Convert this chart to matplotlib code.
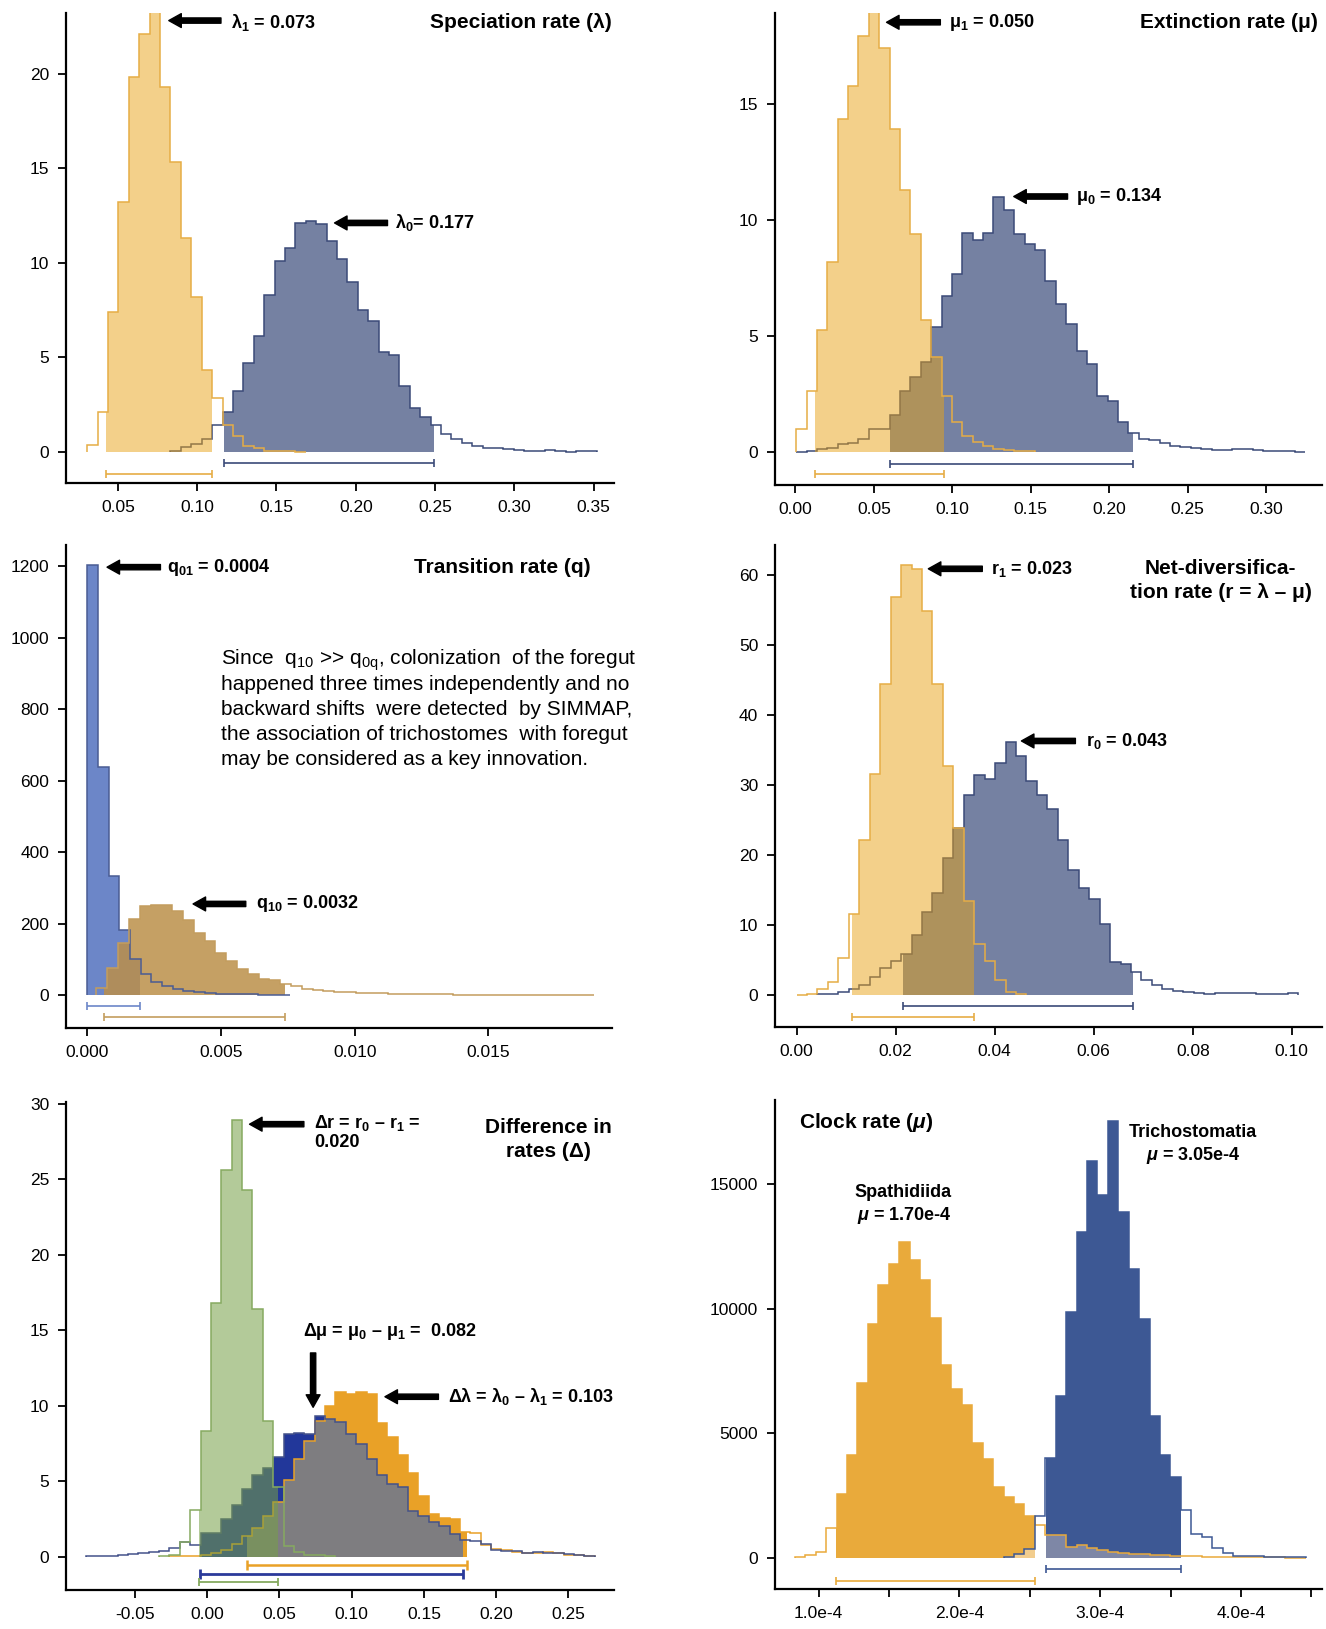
import numpy as np
import matplotlib
matplotlib.use("Agg")
import matplotlib.pyplot as plt

plt.rcParams['font.family'] = ['Liberation Sans', 'DejaVu Sans']
plt.rcParams['mathtext.fontset'] = 'custom'
plt.rcParams['mathtext.rm'] = 'Liberation Sans'
plt.rcParams['mathtext.bf'] = 'Liberation Sans:bold'
plt.rcParams['mathtext.it'] = 'Liberation Sans:italic:bold'

# ---------------- data (histogram heights) ----------------
# speciation rate
lam_start, lam_width, lam_nbins = 0.0307, 0.00656, 49
lam1_first = 0
lam1 = [0.36, 2.1, 7.4, 13.2, 19.8, 22.1, 23.5, 19.3, 15.3, 11.3, 8.2, 4.35, 2.85,
        1.4, 0.83, 0.32, 0.18, 0.05, 0.04, 0.02, 0.01]
lam0_first = 8
lam0 = [0.05, 0.23, 0.41, 0.68, 1.4, 2.1, 3.2, 4.7, 6.1, 8.3, 10.1, 10.8, 12.1, 12.2,
        12.05, 11.15, 10.2, 9.0, 7.5, 6.9, 5.3, 5.1, 3.5, 2.3, 1.85, 1.4, 0.95, 0.68,
        0.47, 0.29, 0.18, 0.18, 0.14, 0.11, 0.05, 0.05, 0.11, 0.05, 0.0, 0.04, 0.04]
lam1_hpd = (0.0425, 0.1095)
lam0_hpd = (0.117, 0.2495)

# extinction rate
mu_start, mu_width, mu_nbins = 0.0005, 0.00662, 49
mu1_first = 0
mu1 = [0.97, 2.64, 5.24, 8.17, 14.35, 15.74, 17.9, 19.5, 17.4, 13.9, 11.3, 9.37, 5.68,
       4.1, 2.42, 1.29, 0.67, 0.41, 0.26, 0.12, 0.09, 0.04, 0.03]
mu0_first = 0
mu0 = [0.0, 0.04, 0.15, 0.19, 0.34, 0.37, 0.56, 1.0, 0.97, 1.61, 2.64, 3.24, 3.88, 5.39,
       6.73, 7.66, 9.44, 9.12, 9.44, 10.98, 10.44, 9.37, 8.97, 8.68, 7.36, 6.37, 5.53,
       4.36, 3.81, 2.43, 2.2, 1.29, 0.82, 0.56, 0.51, 0.37, 0.26, 0.23, 0.19, 0.12, 0.07,
       0.09, 0.12, 0.15, 0.09, 0.04, 0.04, 0.03, 0.01]
mu1_hpd = (0.0122, 0.0946)
mu0_hpd = (0.0600, 0.215)

# transition rate
q01_start, q01_width = 0.0, 0.0004
q01 = [1204, 637, 334, 182, 100, 59, 36, 25, 17, 12, 8, 6, 4, 3, 2, 2, 1, 1, 1]
q10_start, q10_width = 0.00035, 0.000404
q10 = [20, 77, 145, 214, 250, 252, 252, 234, 209, 173, 152, 118, 95, 73, 59, 45, 41, 32,
       25, 18, 14, 12, 10, 8, 7, 6, 5, 4, 3, 2, 2, 2, 2, 1, 1, 1, 1, 1, 1, 1, 1, 1, 1,
       1, 1, 1]
q01_hpd = (0.0, 0.00198)
q10_hpd = (0.00062, 0.00738)
note_lines = [
    'Since  q$_{\\mathrm{10}}$ >> q$_{\\mathrm{0q}}$, colonization  of the foregut',
    'happened three times independently and no',
    'backward shifts  were detected  by SIMMAP,',
    'the association of trichostomes  with foregut',
    'may be considered as a key innovation.',
]

# net diversification rate
r_start, r_width, r_nbins = 0.0, 0.00211, 48
r1_first = 0
r1 = [0.05, 0.1, 0.9, 1.8, 5.3, 11.6, 22.2, 31.6, 44.4, 56.9, 61.5, 60.9, 54.9, 44.4,
      32.7, 23.8, 13.5, 7.3, 4.8, 2.1, 0.4, 0.15]
r0_first = 2
r0 = [0.1, 0.1, 0.5, 0.9, 1.5, 2.6, 3.8, 4.8, 5.9, 8.6, 11.8, 14.6, 19.6, 23.8, 28.6,
      31.4, 30.8, 33.2, 36.2, 34.2, 30.6, 28.6, 26.6, 22.2, 17.9, 15.3, 13.7, 10.1, 4.7,
      4.5, 3.3, 2.2, 1.4, 0.9, 0.6, 0.5, 0.3, 0.15, 0.3, 0.3, 0.25, 0.25, 0.15, 0.15,
      0.2, 0.25]
r1_hpd = (0.0112, 0.0358)
r0_hpd = (0.0214, 0.0679)

# differences in rates
d_start, d_width, d_nbins = -0.0836, 0.00718, 49
dmu_first = 0
dmu = [0.07, 0.07, 0.07, 0.12, 0.17, 0.24, 0.3, 0.35, 0.6, 0.95, 0.8, 1.6, 1.55, 2.5,
       3.4, 4.5, 5.4, 5.9, 6.6, 8.1, 8.2, 8.1, 9.35, 9.1, 8.9, 8.15, 7.5, 6.5, 5.4, 4.85,
       4.6, 3.0, 2.7, 2.3, 2.05, 1.5, 1.1, 1.06, 0.83, 0.47, 0.35, 0.35, 0.24, 0.3, 0.24,
       0.24, 0.17, 0.12, 0.07]
dlam_first = 8
dlam = [0.05, 0.05, 0.05, 0.1, 0.24, 0.47, 0.83, 1.4, 1.9, 2.7, 3.66, 5.1, 6.5, 7.7,
        8.98, 10.0, 10.9, 10.75, 10.9, 10.75, 8.86, 7.9, 6.73, 5.55, 4.0, 2.83, 2.6, 2.5,
        1.65, 1.6, 0.75, 0.5, 0.45, 0.3, 0.25, 0.25, 0.3, 0.25, 0.15, 0.1, 0.05]
dr_first = 7
dr = [0.05, 0.15, 0.95, 3.1, 8.3, 16.8, 25.6, 28.9, 24.3, 16.4, 9.0, 4.6, 0.7, 0.3,
      0.15, 0.1, 0.05]
dlam_hpd = (0.0276, 0.1795)
dmu_hpd = (-0.005, 0.1768)
dr_hpd = (-0.006, 0.0493)

# clock rate
ck_start, ck_width, ck_nbins = 0.831e-4, 0.0741e-4, 49
spath_first = 0
spath = [43, 115, 258, 1188, 2547, 4121, 7012, 9373, 10947, 11777, 12679, 11949, 11133,
         9630, 7727, 6769, 6125, 4622, 3978, 2862, 2433, 2147, 1689, 1331, 930, 900, 429,
         515, 400, 329, 258, 186, 157, 143, 114, 100, 86, 72, 60, 50, 40, 35, 30, 25, 25,
         20, 20, 15, 10]
trich_first = 20
trich = [50, 150, 340, 1678, 3990, 6482, 9874, 13065, 15927, 14539, 17500, 13880, 11591,
         9588, 5695, 4121, 3263, 1903, 973, 830, 400, 186, 86, 86, 86, 43, 43, 43, 20]
spath_hpd = (1.126e-4, 2.536e-4)
trich_hpd = (2.613e-4, 3.572e-4)

clock_xticks = [1.0e-4, 1.5e-4, 2.0e-4, 2.5e-4, 3.0e-4, 3.5e-4, 4.0e-4, 4.5e-4]
clock_xlabels = ['1.0e-4', '', '2.0e-4', '', '3.0e-4', '', '4.0e-4', '']

# ---------------- colours ----------------
ORANGE = '#E8A317'
ORANGE_LINE = '#E6AD45'
SLATE = '#192D64'
SLATE_LINE = '#3B4A78'


def grid(start, width, n):
    return start + width * np.arange(n + 1)


def full(first, vals, n):
    h = np.zeros(n)
    h[first:first + len(vals)] = vals
    return h


def outline(ax, edges, first, vals, color, lw=1.1, z=3):
    e = edges[first:first + len(vals) + 1]
    ax.stairs(vals, e, color=color, lw=lw, zorder=z)


def hpd_fill(ax, edges, h, lo, hi, color, alpha=1.0, z=1):
    h = np.asarray(h, float)
    n = len(h)
    e = edges[:n + 1]
    idx = np.where((e[1:] > lo) & (e[:-1] < hi))[0]
    ee = np.clip(np.append(e[idx], e[idx[-1] + 1]), lo, hi)
    ax.stairs(h[idx], ee, fill=True, color=color, alpha=alpha, lw=0, zorder=z)


def hpd_bar(ax, lo, hi, y, color, lw=1.2, ms=6):
    ax.plot([lo, hi], [y, y], color=color, lw=lw, marker='|', ms=ms, mew=lw,
            zorder=4, solid_capstyle='butt')


def arrow(ax, tip, tail):
    ax.annotate('', xy=tip, xytext=tail,
                arrowprops=dict(arrowstyle='simple,head_length=0.9,head_width=1.0,tail_width=0.38',
                                fc='black', ec='black', mutation_scale=10,
                                shrinkA=0, shrinkB=0), zorder=6)


def frame(ax, xlim, ylim, xticks, xlabels, yticks):
    ax.set_xlim(xlim)
    ax.set_ylim(ylim)
    ax.set_xticks(xticks)
    ax.set_xticklabels(xlabels)
    ax.set_yticks(yticks)
    ax.set_yticklabels([str(v) for v in yticks])
    for s in ('top', 'right'):
        ax.spines[s].set_visible(False)
    for s in ('left', 'bottom'):
        ax.spines[s].set_linewidth(1.6)
    ax.tick_params(direction='out', length=6, width=1.3, labelsize=12.5, pad=6)
    ax.patch.set_alpha(0)


BOLD = dict(fontweight='bold', fontsize=13)
TITLE = dict(fontweight='bold', fontsize=15)

fig = plt.figure(figsize=(13.26, 16.29), dpi=100)
W, H = 1326.0, 1629.0


def axes_px(left, top, right, bottom):
    return fig.add_axes([left / W, 1 - bottom / H, (right - left) / W, (bottom - top) / H])


# ---------------- panel 1: speciation ----------------
ax = axes_px(66, 13, 614, 483)
e = grid(lam_start, lam_width, lam_nbins)
h0 = full(lam0_first, lam0, lam_nbins)
h1 = full(lam1_first, lam1, lam_nbins)
hpd_fill(ax, e, h0, *lam0_hpd, color=SLATE, alpha=0.6, z=1)
outline(ax, e, lam0_first, lam0, SLATE_LINE, z=2)
hpd_fill(ax, e, h1, *lam1_hpd, color=ORANGE, alpha=0.5, z=2.5)
outline(ax, e, lam1_first, lam1, ORANGE_LINE, z=3)
hpd_bar(ax, *lam0_hpd, -0.61, SLATE_LINE)
hpd_bar(ax, *lam1_hpd, -1.15, ORANGE_LINE)
arrow(ax, (0.0821, 22.8), (0.115, 22.8))
ax.text(0.1213, 22.7, r'λ$_{\mathbf{1}}$ = 0.073', va='center', ha='left', **BOLD)
arrow(ax, (0.1866, 12.1), (0.220, 12.1))
ax.text(0.225, 12.1, r'λ$_{\mathbf{0}}$= 0.177', va='center', ha='left', **BOLD)
ax.text(0.3615, 22.7, 'Speciation rate (λ)', va='center', ha='right', **TITLE)
frame(ax, (0.0173, 0.3628), (-1.65, 23.2), [0.05, 0.10, 0.15, 0.20, 0.25, 0.30, 0.35],
      ['0.05', '0.10', '0.15', '0.20', '0.25', '0.30', '0.35'], [0, 5, 10, 15, 20])

# ---------------- panel 2: extinction ----------------
ax = axes_px(775, 13, 1322, 485)
e = grid(mu_start, mu_width, mu_nbins)
h0 = full(mu0_first, mu0, mu_nbins)
h1 = full(mu1_first, mu1, mu_nbins)
hpd_fill(ax, e, h0, *mu0_hpd, color=SLATE, alpha=0.6, z=1)
outline(ax, e, mu0_first, mu0, SLATE_LINE, z=2)
hpd_fill(ax, e, h1, *mu1_hpd, color=ORANGE, alpha=0.5, z=2.5)
outline(ax, e, mu1_first, mu1, ORANGE_LINE, z=3)
hpd_bar(ax, *mu0_hpd, -0.5, SLATE_LINE)
hpd_bar(ax, *mu1_hpd, -0.94, ORANGE_LINE)
arrow(ax, (0.0581, 18.5), (0.0924, 18.5))
ax.text(0.0978, 18.5, r'μ$_{\mathbf{1}}$ = 0.050', va='center', ha='left', **BOLD)
arrow(ax, (0.1392, 11.0), (0.1735, 11.0))
ax.text(0.179, 11.0, r'μ$_{\mathbf{0}}$ = 0.134', va='center', ha='left', **BOLD)
ax.text(0.333, 18.5, 'Extinction rate (μ)', va='center', ha='right', **TITLE)
frame(ax, (-0.013, 0.3357), (-1.42, 18.9), [0.0, 0.05, 0.10, 0.15, 0.20, 0.25, 0.30],
      ['0.00', '0.05', '0.10', '0.15', '0.20', '0.25', '0.30'], [0, 5, 10, 15])

# ---------------- panel 3: transition ----------------
ax = axes_px(66, 545, 612, 1028)
ea = grid(q01_start, q01_width, len(q01))
eb = grid(q10_start, q10_width, len(q10))
hpd_fill(ax, ea, q01, *q01_hpd, color='#6C86C8', alpha=1.0, z=1)
hpd_fill(ax, eb, q10, *q10_hpd, color='#BB8F49', alpha=0.85, z=1.5)
outline(ax, ea, 0, q01, '#4A5C93', z=2)
outline(ax, eb, 0, q10, '#C39D5E', z=3)
hpd_bar(ax, *q01_hpd, -30, '#6C86C8')
hpd_bar(ax, *q10_hpd, -61, '#C39D5E')
arrow(ax, (0.000744, 1197), (0.00274, 1197))
ax.text(0.0030, 1197, r'q$_{\mathbf{01}}$ = 0.0004', va='center', ha='left', **BOLD)
arrow(ax, (0.00396, 255), (0.00593, 255))
ax.text(0.00633, 255, r'q$_{\mathbf{10}}$ = 0.0032', va='center', ha='left', **BOLD)
ax.text(0.01883, 1197, 'Transition rate (q)', va='center', ha='right', **TITLE)
for line, yline in zip(note_lines, [937, 868, 799, 728, 658]):
    ax.text(0.00502, yline, line, va='center', ha='left', fontsize=15)
frame(ax, (-0.00079, 0.01962), (-92, 1259), [0.0, 0.005, 0.010, 0.015],
      ['0.000', '0.005', '0.010', '0.015'], [0, 200, 400, 600, 800, 1000, 1200])

# ---------------- panel 4: net diversification ----------------
ax = axes_px(775, 545, 1322, 1027)
e = grid(r_start, r_width, r_nbins)
h0 = full(r0_first, r0, r_nbins)
h1 = full(r1_first, r1, r_nbins)
hpd_fill(ax, e, h0, *r0_hpd, color=SLATE, alpha=0.6, z=1)
outline(ax, e, r0_first, r0, SLATE_LINE, z=2)
hpd_fill(ax, e, h1, *r1_hpd, color=ORANGE, alpha=0.5, z=2.5)
outline(ax, e, r1_first, r1, ORANGE_LINE, z=3)
hpd_bar(ax, *r0_hpd, -1.55, SLATE_LINE)
hpd_bar(ax, *r1_hpd, -3.1, ORANGE_LINE)
arrow(ax, (0.0266, 60.9), (0.0375, 60.9))
ax.text(0.0392, 60.9, r'r$_{\mathbf{1}}$ = 0.023', va='center', ha='left', **BOLD)
arrow(ax, (0.0454, 36.3), (0.0563, 36.3))
ax.text(0.0584, 36.3, r'r$_{\mathbf{0}}$ = 0.043', va='center', ha='left', **BOLD)
ax.text(0.0856, 59.2, 'Net-diversifica-\ntion rate (r = λ – μ)', va='center', ha='center',
        multialignment='center', linespacing=1.3, **TITLE)
frame(ax, (-0.00436, 0.1061), (-4.57, 64.3), [0.0, 0.02, 0.04, 0.06, 0.08, 0.10],
      ['0.00', '0.02', '0.04', '0.06', '0.08', '0.10'], [0, 10, 20, 30, 40, 50, 60])

# ---------------- panel 5: differences ----------------
ax = axes_px(66, 1102, 614, 1590)
e = grid(d_start, d_width, d_nbins)
hm = full(dmu_first, dmu, d_nbins)
hl = full(dlam_first, dlam, d_nbins)
hr = full(dr_first, dr, d_nbins)
hpd_fill(ax, e, hl, *dlam_hpd, color='#E9A127', z=1)
hpd_fill(ax, e, hm, *dmu_hpd, color='#22379A', z=1.1)
hpd_fill(ax, e, np.minimum(hl, hm), max(dlam_hpd[0], dmu_hpd[0]),
         min(dlam_hpd[1], dmu_hpd[1]), color='#7E7D80', z=1.2)
outline(ax, e, dlam_first, dlam, '#E9A127', z=2)
outline(ax, e, dmu_first, dmu, '#44528A', z=2.1)
hpd_fill(ax, e, hr, *dr_hpd, color='#76A046', alpha=0.55, z=2.5)
outline(ax, e, dr_first, dr, '#86AA60', z=3)
hpd_bar(ax, *dlam_hpd, -0.54, '#E9A127', lw=1.8, ms=7)
hpd_bar(ax, *dmu_hpd, -1.11, '#2B3A9A', lw=2.0, ms=7)
hpd_bar(ax, *dr_hpd, -1.65, '#86AA60', lw=1.3, ms=6)
arrow(ax, (0.0293, 28.65), (0.0669, 28.65))
ax.text(0.0739, 28.75, r'Δr = r$_{\mathbf{0}}$ – r$_{\mathbf{1}}$ =', va='center', ha='left', **BOLD)
ax.text(0.0739, 27.45, '0.020', va='center', ha='left', **BOLD)
ax.text(0.236, 27.65, 'Difference in\nrates (Δ)', va='center', ha='center',
        multialignment='center', linespacing=1.3, **TITLE)
ax.text(0.066, 14.9, r'Δμ = μ$_{\mathbf{0}}$ – μ$_{\mathbf{1}}$ =  0.082', va='center', ha='left', **BOLD)
arrow(ax, (0.0733, 9.9), (0.0733, 13.5))
arrow(ax, (0.123, 10.6), (0.160, 10.6))
ax.text(0.1666, 10.6, r'Δλ = λ$_{\mathbf{0}}$ – λ$_{\mathbf{1}}$ = 0.103', va='center', ha='left', **BOLD)
frame(ax, (-0.0977, 0.2815), (-2.2, 30.12), [-0.05, 0.0, 0.05, 0.10, 0.15, 0.20, 0.25],
      ['-0.05', '0.00', '0.05', '0.10', '0.15', '0.20', '0.25'], [0, 5, 10, 15, 20, 25, 30])

# ---------------- panel 6: clock rate ----------------
ax = axes_px(775, 1100, 1322, 1589)
e = grid(ck_start, ck_width, ck_nbins)
hs = full(spath_first, spath, ck_nbins)
ht = full(trich_first, trich, ck_nbins)
hpd_fill(ax, e, hs, *spath_hpd, color='#E9AA3B', z=1)
hpd_fill(ax, e, ht, *trich_hpd, color='#3D5894', z=1.1)
hpd_fill(ax, e, np.minimum(hs, ht), *spath_hpd, color='#F2CD8E', z=1.2)
hpd_fill(ax, e, np.minimum(hs, ht), *trich_hpd, color='#7E87A6', z=1.2)
outline(ax, e, spath_first, spath, '#E9AA3B', z=2)
outline(ax, e, trich_first, trich, '#3D5894', z=2.1)
hpd_bar(ax, *trich_hpd, -458, '#3D5894')
hpd_bar(ax, *spath_hpd, -916, '#E9AA3B')
ax.text(0.861e-4, 17460, r'Clock rate ($\mu$)', va='center', ha='left', **TITLE)
ax.text(1.60e-4, 14640, 'Spathidiida', va='center', ha='center', **BOLD)
ax.text(1.608e-4, 13710, r'$\mu$ = 1.70e-4', va='center', ha='center', **BOLD)
ax.text(3.657e-4, 17070, 'Trichostomatia', va='center', ha='center', **BOLD)
ax.text(3.663e-4, 16140, r'$\mu$ = 3.05e-4', va='center', ha='center', **BOLD)
frame(ax, (0.690e-4, 4.575e-4), (-1245, 18360), clock_xticks, clock_xlabels,
      [0, 5000, 10000, 15000])

fig.savefig('out.png', dpi=100)
